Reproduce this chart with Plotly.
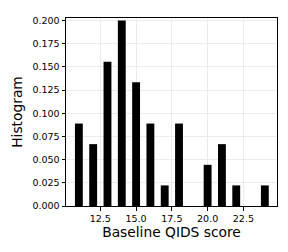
import plotly.graph_objects as go

scores = [11, 12, 13, 14, 15, 16, 17, 18, 20, 21, 22, 24]
density = [0.0889, 0.0667, 0.1556, 0.2000, 0.1333, 0.0889, 0.0222, 0.0889,
           0.0444, 0.0667, 0.0222, 0.0222]
x_ticks = [12.5, 15.0, 17.5, 20.0, 22.5]
y_ticks = [0.0, 0.025, 0.05, 0.075, 0.1, 0.125, 0.15, 0.175, 0.2]

fig = go.Figure(go.Bar(x=scores, y=density, width=0.55,
                       marker=dict(color="black", line=dict(width=0))))

font = "DejaVu Sans"
fig.update_layout(
    width=288, height=252,
    margin=dict(l=66, r=11, t=18, b=46),
    plot_bgcolor="white", paper_bgcolor="white",
    showlegend=False,
    font=dict(family=font, color="black"),
)
fig.update_xaxes(
    automargin=False,
    range=[10.1, 24.85], tickvals=x_ticks, ticktext=[f"{v:.1f}" for v in x_ticks],
    ticks="outside", ticklen=3.5, tickwidth=0.8, tickcolor="black",
    tickfont=dict(size=9.5, family=font),
    showline=True, linecolor="black", linewidth=1, mirror=True,
    showgrid=True, gridcolor="#ececec", gridwidth=0.8, zeroline=False,
    title=dict(text="Baseline QIDS score", font=dict(size=13.8, family=font), standoff=3),
)
fig.update_yaxes(
    automargin=False,
    range=[0, 0.2027], tickvals=y_ticks, ticktext=[f"{v:.3f}" for v in y_ticks],
    ticks="outside", ticklen=3.5, tickwidth=0.8, tickcolor="black",
    tickfont=dict(size=9.5, family=font),
    showline=True, linecolor="black", linewidth=1, mirror=True,
    showgrid=True, gridcolor="#ececec", gridwidth=0.8, zeroline=False,
    title=dict(text="Histogram", font=dict(size=13.8, family=font), standoff=6),
)

fig.write_html("out.html", config={"displayModeBar": False},
               post_script="document.body.style.margin='0';document.body.style.padding='0';")
